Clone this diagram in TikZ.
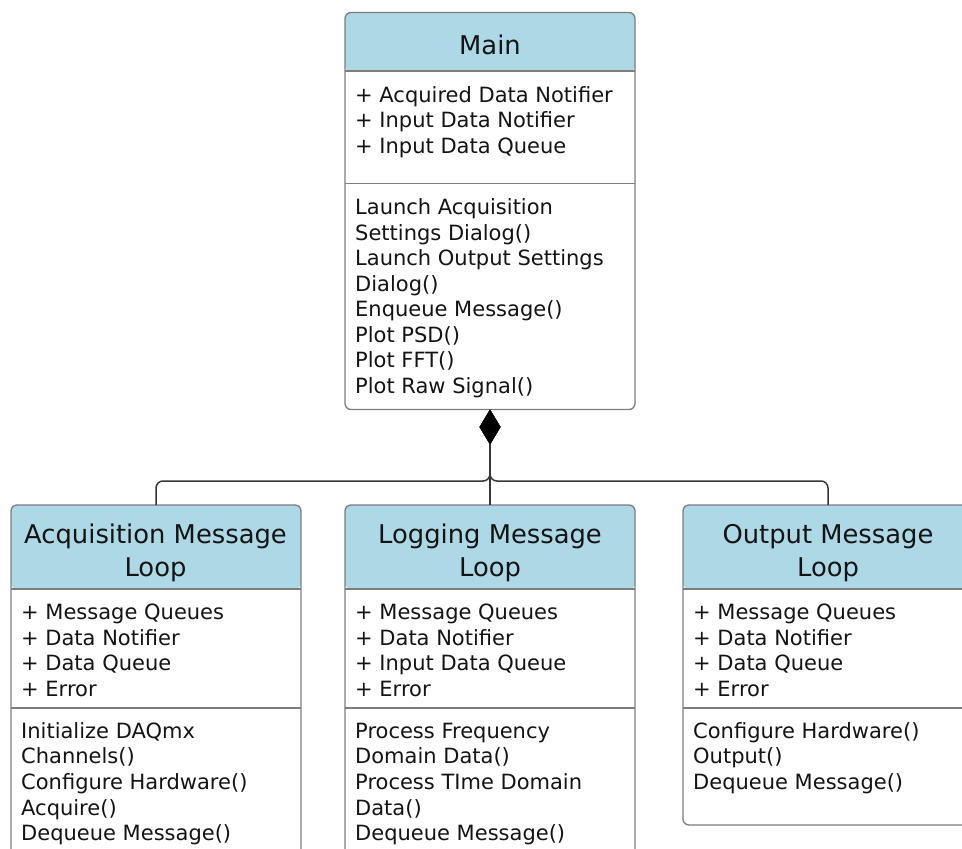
\documentclass[tikz,border=0pt]{standalone}
\usepackage{fontspec}
\setmainfont{DejaVu Sans}
\usetikzlibrary{arrows.meta}
\definecolor{hdrblue}{RGB}{173,216,230}
\definecolor{boxgray}{RGB}{125,125,125}
\definecolor{txtcol}{RGB}{20,20,20}
\definecolor{conncol}{RGB}{55,55,55}
\begin{document}
\begin{tikzpicture}[x=1pt,y=-1pt,
  classbox/.style={draw=boxgray, line width=1.3pt, rounded corners=6pt, fill=white,
    inner sep=0pt, outer sep=0pt, anchor=north west, minimum width=290pt, minimum height=#1},
  hdrfill/.style={path picture={\fill[hdrblue] (path picture bounding box.north west)
    rectangle ([yshift=-#1]path picture bounding box.north east);}},
  divider/.style={draw=boxgray, line width=1.3pt},
  attr/.style={anchor=base west, inner sep=0pt, font=\fontsize{21}{25}\selectfont, text=txtcol},
  headtxt/.style={anchor=base, inner sep=0pt, font=\fontsize{25.8}{33}\selectfont, text=txtcol},
  connline/.style={draw=conncol, line width=1.5pt, rounded corners=7pt},
  comp/.style={{Diamond[length=35pt,width=21pt,color=black,fill=black]}-}
]
\useasboundingbox (0,0) rectangle (962,849);
\clip (0,0) rectangle (962,849);
\fill[white] (0,0) rectangle (962,849);

% ---------- boxes ----------
\node[classbox=397pt, hdrfill=59pt] (main) at (345,12.5) {};
\node[classbox=420pt, hdrfill=84pt] (acq) at (11,505) {};
\node[classbox=420pt, hdrfill=84pt] (log) at (345,505) {};
\node[classbox=320pt, hdrfill=84pt] (out) at (683,505) {};

% dividers
\draw[divider] (345,71) -- (635,71);
\draw[divider] (345,183.5) -- (635,183.5);
\foreach \bx in {11,345,683}{
  \draw[divider] (\bx,589) -- (\bx+290,589);
  \draw[divider] (\bx,708) -- (\bx+290,708);
}

% ---------- Main ----------
\node[headtxt] (mainT) at (490,54) {Main};
\foreach \t [count=\i from 0] in {+ Acquired Data Notifier, + Input Data Notifier, + Input Data Queue}
  \node[attr] (mainA\i) at (355,102+25.5*\i) {\t};
\foreach \t [count=\i from 0] in {Launch Acquisition, Settings Dialog(), Launch Output Settings, Dialog(), Enqueue Message(), Plot PSD(), Plot FFT(), Plot Raw Signal()}
  \node[attr] (mainM\i) at (355,214.5+25.5*\i) {\t};

% ---------- Acquisition ----------
\node[headtxt] (acqT1) at (155.5,543) {Acquisition Message};
\node[headtxt] (acqT2) at (155.5,576) {Loop};
\foreach \t [count=\i from 0] in {+ Message Queues, + Data Notifier, + Data Queue, + Error}
  \node[attr] (acqA\i) at (21,619.3+25.7*\i) {\t};
\foreach \t [count=\i from 0] in {Initialize DAQmx, Channels(), Configure Hardware(), Acquire(), Dequeue Message()}
  \node[attr] (acqM\i) at (21,738.3+25.6*\i) {\t};

% ---------- Logging ----------
\node[headtxt] (logT1) at (490,543) {Logging Message};
\node[headtxt] (logT2) at (490,576) {Loop};
\foreach \t [count=\i from 0] in {+ Message Queues, + Data Notifier, + Input Data Queue, + Error}
  \node[attr] (logA\i) at (355,619.3+25.7*\i) {\t};
\foreach \t [count=\i from 0] in {Process Frequency, Domain Data(), Process TIme Domain, Data(), Dequeue Message()}
  \node[attr] (logM\i) at (355,738.3+25.6*\i) {\t};

% ---------- Output ----------
\node[headtxt] (outT1) at (828,543) {Output Message};
\node[headtxt] (outT2) at (828,576) {Loop};
\foreach \t [count=\i from 0] in {+ Message Queues, + Data Notifier, + Data Queue, + Error}
  \node[attr] (outA\i) at (693,619.3+25.7*\i) {\t};
\foreach \t [count=\i from 0] in {Configure Hardware(), Output(), Dequeue Message()}
  \node[attr] (outM\i) at (693,738.3+25.6*\i) {\t};

% ---------- connectors ----------
\coordinate (jy) at (0,481);
\draw[connline, comp] (main.south) -- (main.south |- jy) -- (acq.north |- jy) -- (acq.north);
\draw[connline, comp] (main.south) -- (main.south |- jy) -- (out.north |- jy) -- (out.north);
\draw[connline, comp] (main.south) -- (log.north);
\end{tikzpicture}
\end{document}
